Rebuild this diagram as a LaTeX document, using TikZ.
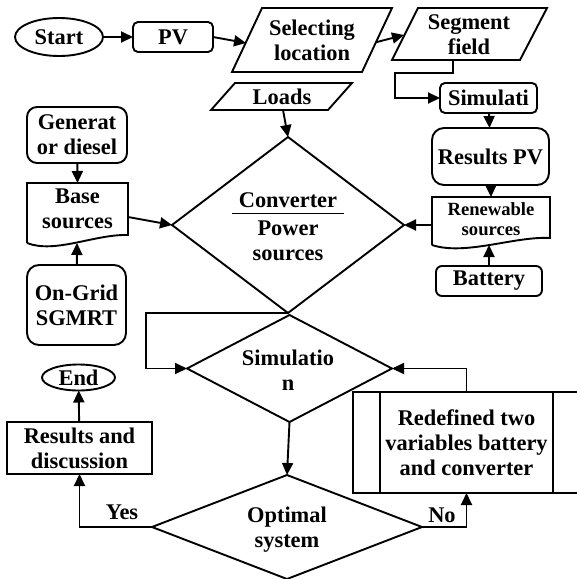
\documentclass[tikz,border=0pt]{standalone}
\usepackage{fontspec}
\setmainfont{Liberation Serif}
\usetikzlibrary{arrows.meta,shapes.geometric,calc}
\begin{document}
\begin{tikzpicture}[x=1pt,y=-1pt,
  every node/.style={font=\fontsize{22.4}{25}\selectfont\bfseries, align=center, inner sep=0pt, outer sep=0pt},
  ln/.style={line width=1.9pt},
  arr/.style={line width=1.9pt,-{Triangle[length=12pt,width=11pt]}},
  rbox/.style={draw, line width=1.9pt, rounded corners=#1},
  small/.style={font=\fontsize{18.6}{20}\selectfont\bfseries},
  dia/.style={draw, diamond, line width=1.9pt},
  oval/.style={draw, ellipse, line width=1.9pt}
]
\useasboundingbox (0,0) rectangle (577,579);

% top row
\node[oval,minimum width=88pt,minimum height=38pt] (start) at (59,37) {Start};
\node[rbox=5pt,minimum width=80pt,minimum height=30pt] (pv) at (173,37) {PV};
\draw[ln] (262,8) -- (392,8) -- (362,72) -- (232,72) -- cycle;
\node (sel) at (312,40) {Selecting\\location};
\coordinate (selin) at (246,43);
\coordinate (selout) at (377,42);
\draw[ln] (418,8) -- (547,8) -- (520,60) -- (392,60) -- cycle;
\node (seg) at (469,35) {Segment\\field};
\coordinate (segin) at (404,35);
\coordinate (segbot) at (453,60);

% right column
\node[rbox=5pt,minimum width=97pt,minimum height=30pt] (simi) at (488.5,98) {Simulati};
\node[rbox=12pt,minimum width=117pt,minimum height=57pt] (respv) at (490.5,156.5) {Results PV};
\node[small,minimum width=118pt,minimum height=44pt] (ren) at (491,219) {Renewable\\sources};
\draw[ln] (432,245) -- (432,197) -- (550,197) -- (550,238) .. controls (515,236) and (465,256) .. (432,245);
\coordinate (renbot) at (489,245);
\node[rbox=6pt,minimum width=106pt,minimum height=30pt] (bat) at (489,281) {Battery};

% loads and converter
\draw[ln] (235,83) -- (352,83) -- (328,110) -- (211,110) -- cycle;
\node (loads) at (282,97) {Loads};
\coordinate (loadsbot) at (283,110);
\node[dia,minimum width=232pt,minimum height=176pt] (conv) at (288,225) {};
\node (convt) at (288,227) {Converter\\[3pt]Power\\sources};
\draw[line width=1pt] (232,213) -- (344,213);

% left column
\node[rbox=10pt,minimum width=100pt,minimum height=56pt] (gen) at (77,135) {Generat\\or diesel};
\node[minimum width=101pt,minimum height=52pt] (base) at (77.5,209) {Base\\sources};
\draw[ln] (27,243) -- (27,183) -- (128,183) -- (128,235) .. controls (95,234) and (55,254) .. (27,243);
\coordinate (basebot) at (77,243);
\node[rbox=12pt,minimum width=99pt,minimum height=80pt] (grid) at (76.5,305) {On-Grid\\SGMRT};

% lower part
\node[oval,minimum width=73pt,minimum height=26pt] (end) at (78.5,377.5) {End};
\node[draw,line width=1.9pt,minimum width=145pt,minimum height=52pt] (res) at (79.5,448) {Results and\\discussion};
\node[dia,minimum width=205pt,minimum height=107pt] (simn) at (289.5,368.5) {};
\node (simt) at (288,370) {Simulatio\\n};
\node[dia,minimum width=270pt,minimum height=104pt] (opt) at (287,527) {};
\node (optt) at (287,530) {Optimal\\system};
\node[minimum width=173pt,minimum height=101pt] (redef) at (466.5,442.5) {Redefined two\\variables battery\\and converter};
\draw[ln] (redef.north west) rectangle (redef.south east);
\draw[ln] (577,392) -- (353,392) -- (353,493) -- (577,493);
\node (yes) at (122,512) {Yes};
\node (no) at (442,515) {No};

% connectors
\draw[arr] (start) -- (pv);
\draw[arr] (pv.east) -- (selin);
\draw[arr] (selout) -- (segin);
\draw[arr] (segbot) -- ++(0,13) -- ++(-58,0) |- (simi.west);
\draw[arr] (simi) -- (respv);
\draw[arr] (respv) -- (ren.north);
\draw[arr] (bat) -- (renbot);
\draw[arr] (ren.west |- conv.east) -- (conv.east);
\draw[arr] (loadsbot) -- (conv.north);
\draw[arr] (gen) -- (base.north);
\draw[arr] (grid) -- (basebot);
\draw[arr] ([yshift=-8pt]base.east) -- (conv.west);
\draw[arr] (conv.south) -- ++(-142,0) |- (simn.west);
\draw[arr] (simn.south) -- (opt.north);
\draw[arr] (opt.west) -| (res.south);
\draw[arr] (opt.east) -| (redef.south);
\draw[arr] (redef.north) |- (simn.east);
\draw[arr] (res) -- (end);
\end{tikzpicture}
\end{document}
